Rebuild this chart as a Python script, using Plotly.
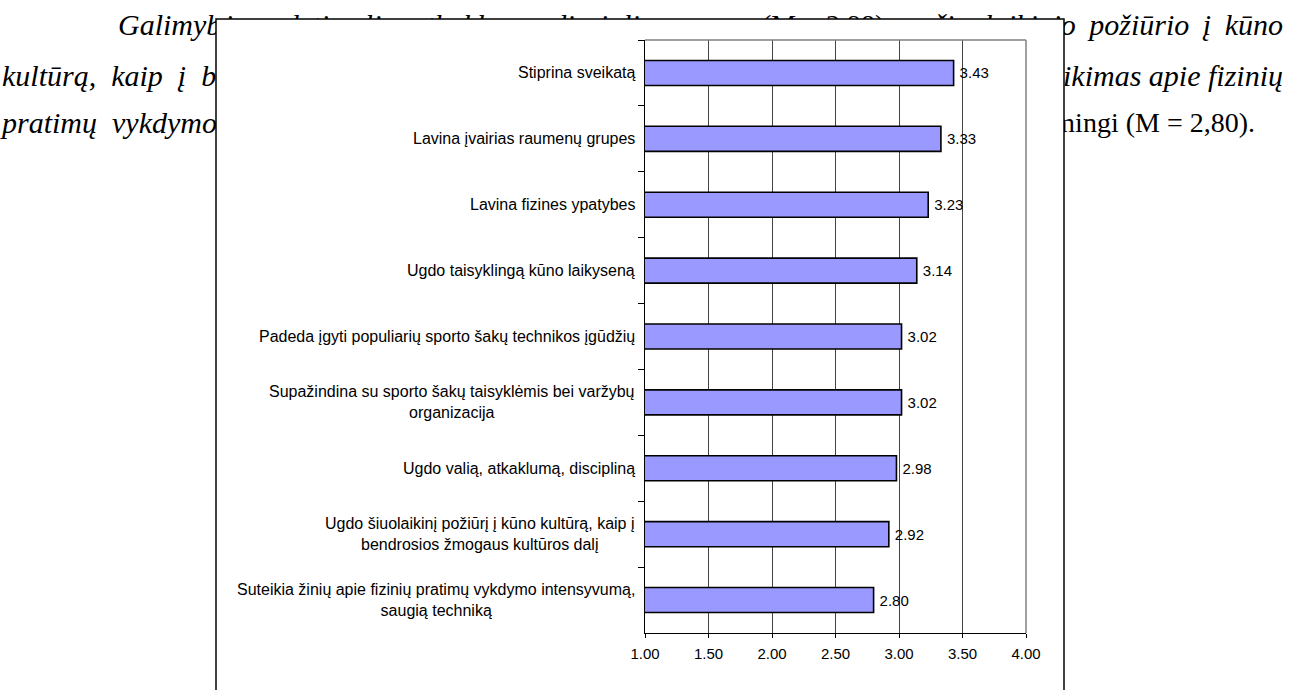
import plotly.graph_objects as go

W, H = 1304, 690

# Survey results: mean scores per statement (top to bottom)
categories = [
    "Stiprina sveikatą",
    "Lavina įvairias raumenų grupes",
    "Lavina fizines ypatybes",
    "Ugdo taisyklingą kūno laikyseną",
    "Padeda įgyti populiarių sporto šakų technikos įgūdžių",
    "Supažindina su sporto šakų taisyklėmis bei varžybų<br>organizacija",
    "Ugdo valią, atkaklumą, discipliną",
    "Ugdo šiuolaikinį požiūrį į kūno kultūrą, kaip į<br>bendrosios žmogaus kultūros dalį",
    "Suteikia žinių apie fizinių pratimų vykdymo intensyvumą,<br>saugią techniką",
]
means = [3.43, 3.33, 3.23, 3.14, 3.02, 3.02, 2.98, 2.92, 2.80]

x_ticks = [1.0, 1.5, 2.0, 2.5, 3.0, 3.5, 4.0]
x_tick_labels = ["1.00", "1.50", "2.00", "2.50", "3.00", "3.50", "4.00"]

# Surrounding justified paragraph: (text, anchor x px, side, italic) per line
EN = "\u2002"
THIN = "\u2009"
para_lines = [
    [("Galimybės ugdyti valią, atkaklumą, discipliną", 118, "left", True),
     ("(M = 2,98),", 762, "left", False),
     (f"šiuolaikinio {THIN}požiūrio {THIN}į {THIN}kūno", 1283, "right", True)],
    [(f"kultūrą,{EN}kaip{EN}į{EN}bendrosios", 2, "left", True),
     ("suteikimas apie fizinių", 1283, "right", True)],
    [(f"pratimų{EN}vykdymo intensyvumą", 2, "left", True),
     ("reikšmingi (M = 2,80).", 1255, "right", False)],
]
para_line_y = [27, 78, 125]

# Chart frame and plot area geometry (pixels)
box_l, box_r, box_t = 216, 1064, 19
plot_l, plot_r, plot_t, plot_b = 645, 1026, 40, 633


def px_x(v):
    return v / W


def px_y(v):
    return 1 - v / H


fig = go.Figure()

fig.add_trace(go.Bar(
    y=categories, x=means, orientation="h",
    marker=dict(color="#9999FF", line=dict(color="black", width=1.6)),
    text=[f"\u2009{v:.2f}" for v in means], textposition="outside",
    textfont=dict(family="Liberation Sans", size=15, color="black"),
    cliponaxis=False, hoverinfo="skip", xaxis="x", yaxis="y",
))

# Paragraph text strips around the chart frame, each clipped to its strip
strips = [
    ("x2", "y2", [0, box_l], [H, 0], [0, px_x(box_l)], [0, 1]),
    ("x3", "y3", [box_r, W], [H, 0], [px_x(box_r), 1], [0, 1]),
    ("x4", "y4", [box_l, box_r], [box_t, 0], [px_x(box_l), px_x(box_r)], [px_y(box_t), 1]),
]
for xa, ya, xr, yr, xd, yd in strips:
    for segs, yy in zip(para_lines, para_line_y):
        for txt, ax, side, ital in segs:
            fig.add_trace(go.Scatter(
                x=[ax], y=[yy], mode="text",
                text=[f"<i>{txt}</i>" if ital else txt],
                textposition="middle right" if side == "left" else "middle left",
                textfont=dict(family="Liberation Serif", size=30 if ital else 28, color="black"),
                cliponaxis=True, hoverinfo="skip", showlegend=False,
                xaxis=xa, yaxis=ya,
            ))

layout_axes = {}
for i, (xa, ya, xr, yr, xd, yd) in enumerate(strips, start=2):
    layout_axes[f"xaxis{i}"] = dict(domain=xd, range=xr, visible=False, anchor=ya,
                                    fixedrange=True, automargin=False)
    layout_axes[f"yaxis{i}"] = dict(domain=yd, range=yr, visible=False, anchor=xa,
                                    fixedrange=True, automargin=False)

fig.update_layout(
    width=W, height=H,
    margin=dict(l=0, r=0, t=0, b=0, pad=0, autoexpand=False),
    paper_bgcolor="white", plot_bgcolor="rgba(0,0,0,0)",
    showlegend=False, bargap=0.62,
    font=dict(family="Liberation Sans", size=15, color="black"),
    xaxis=dict(
        domain=[px_x(plot_l), px_x(plot_r)], range=[1, 4], anchor="y",
        tickvals=x_ticks, ticktext=x_tick_labels,
        showgrid=True, gridcolor="#444444", gridwidth=1,
        showline=True, linecolor="black", linewidth=1,
        ticks="outside", ticklen=4, tickcolor="black", ticklabelstandoff=3,
        zeroline=False, fixedrange=True, automargin=False,
    ),
    yaxis=dict(
        domain=[px_y(plot_b), px_y(plot_t)], anchor="x",
        autorange="reversed", showticklabels=False,
        tickson="boundaries", ticks="outside", ticklen=6, tickcolor="black",
        showline=True, linecolor="black", linewidth=1,
        showgrid=False, zeroline=False, fixedrange=True, automargin=False,
    ),
    **layout_axes,
)

# White chart frame behind the plot (bottom edge runs off the page)
fig.add_shape(type="rect", xref="paper", yref="paper",
              x0=px_x(box_l), x1=px_x(box_r), y0=-0.02, y1=px_y(box_t),
              fillcolor="white", line=dict(color="black", width=1.5), layer="below")
# Grey plot-area border on top and right
fig.add_shape(type="line", xref="paper", yref="paper",
              x0=px_x(plot_l), x1=px_x(plot_r), y0=px_y(plot_t), y1=px_y(plot_t),
              line=dict(color="#808080", width=1.5), layer="above")
fig.add_shape(type="line", xref="paper", yref="paper",
              x0=px_x(plot_r), x1=px_x(plot_r), y0=px_y(plot_b), y1=px_y(plot_t),
              line=dict(color="#808080", width=1.5), layer="above")

# Category labels: centred lines, right-aligned against the axis
for i, c in enumerate(categories):
    fig.add_annotation(
        x=px_x(plot_l - 8), xref="paper", y=i, yref="y",
        text=c, showarrow=False, xanchor="right", yanchor="middle", align="center",
        font=dict(family="Liberation Sans", size=16, color="black"),
    )

page_css = "document.documentElement.style.margin='0';document.body.style.margin='0';"
fig.write_html("out.html", config={"displayModeBar": False}, post_script=page_css)
